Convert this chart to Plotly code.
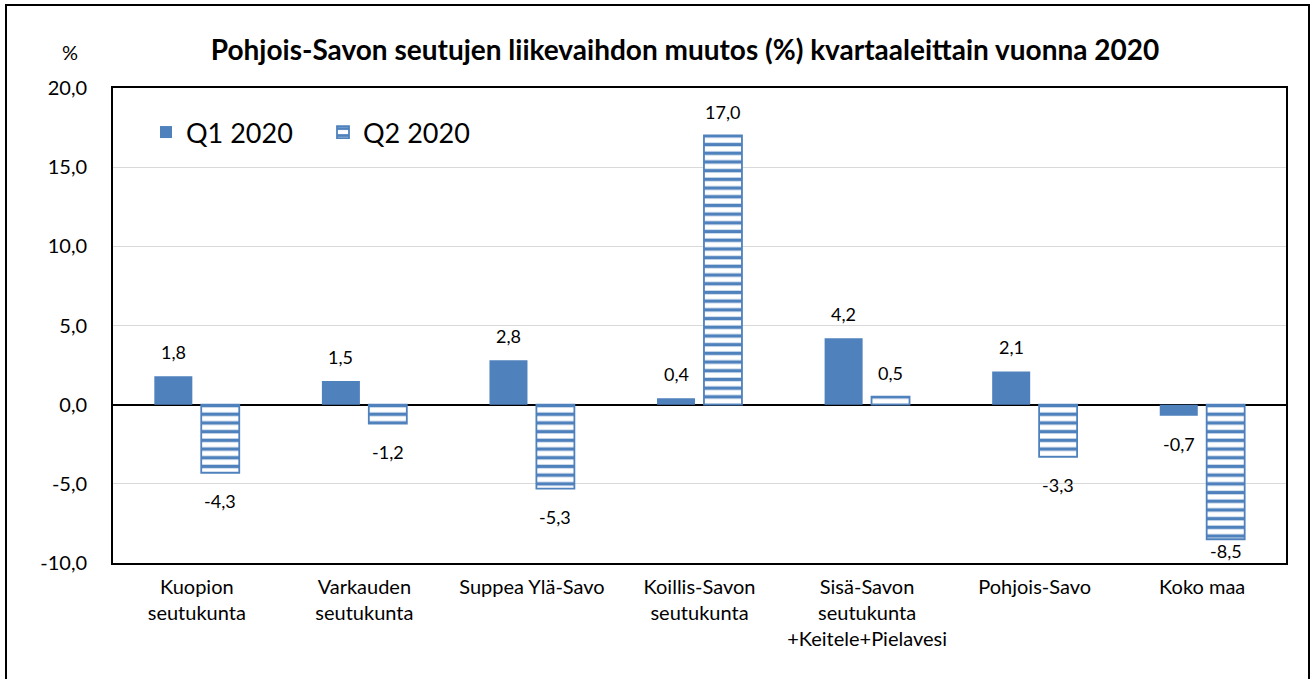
import plotly.graph_objects as go

categories = ["Kuopion<br>seutukunta", "Varkauden<br>seutukunta", "Suppea Ylä-Savo",
              "Koillis-Savon<br>seutukunta", "Sisä-Savon<br>seutukunta<br>+Keitele+Pielavesi",
              "Pohjois-Savo", "Koko maa"]
q1_2020 = [1.8, 1.5, 2.8, 0.4, 4.2, 2.1, -0.7]
q2_2020 = [-4.3, -1.2, -5.3, 17.0, 0.5, -3.3, -8.5]
series_names = ["Q1 2020", "Q2 2020"]
y_ticks = [-10, -5, 0, 5, 10, 15, 20]
y_tick_labels = ["-10,0", "-5,0", "0,0", "5,0", "10,0", "15,0", "20,0"]

BLUE = "#4F81BD"
FONT = "Lato"
W, H = 1311, 679
L, R, T, B = 113, 25, 88, 116
YMIN, YMAX = -10, 20
plot_w = W - L - R
plot_h = H - T - B
px_per_unit = plot_h / (YMAX - YMIN)


def px_x(p):
    return (p - L) / plot_w


def px_y(p):
    return (H - B - p) / plot_h


fig = go.Figure()
fig.add_trace(go.Bar(
    x=categories, y=q1_2020, name=series_names[0],
    marker=dict(color=BLUE, line=dict(color=BLUE, width=0)),
))
fig.add_trace(go.Bar(
    x=categories, y=q2_2020, name=series_names[1],
    marker=dict(color="white", line=dict(color=BLUE, width=1.8),
                pattern=dict(shape="-", fgcolor=BLUE, bgcolor="white", size=8.7,
                             solidity=0.4, fillmode="replace")),
))

# data labels
annotations = []
slot_px = plot_w / len(categories) * (1 - 0.44) / 2
for vals, xs in ((q1_2020, -slot_px / 2), (q2_2020, slot_px / 2)):
    for c, v in zip(categories, vals):
        if v >= 0:
            y, ys = v, 24
        else:
            y, ys = v, -28
            lowest = YMIN + 12.5 / px_per_unit
            if v - 28 / px_per_unit < lowest:
                y, ys = lowest, 0
        annotations.append(dict(
            x=c, y=y, xref="x", yref="y", xshift=xs, yshift=ys,
            text=f"{v:.1f}".replace(".", ","), showarrow=False,
            font=dict(family=FONT, size=18, color="#000000"),
            xanchor="center", yanchor="middle"))

annotations.append(dict(
    x=px_x(70), y=px_y(52), xref="paper", yref="paper", text="%", showarrow=False,
    xanchor="center", yanchor="middle",
    font=dict(family=FONT, size=20, color="#000000")))

fig.update_layout(
    width=W, height=H,
    margin=dict(l=L, r=R, t=T, b=B, pad=0),
    paper_bgcolor="white", plot_bgcolor="white",
    separators=", ",
    barmode="group", bargap=0.44, bargroupgap=0.19,
    font=dict(family=FONT, color="#000000"),
    title=dict(text="<b>Pohjois-Savon seutujen liikevaihdon muutos (%) kvartaaleittain vuonna 2020</b>",
               x=px_x(685), xref="paper", xanchor="center",
               y=1 - 50 / H, yref="container", yanchor="middle",
               font=dict(family=FONT, size=28, color="#000000")),
    legend=dict(orientation="h", x=px_x(146), y=px_y(108),
                xanchor="left", yanchor="top", bgcolor="rgba(0,0,0,0)",
                font=dict(family=FONT, size=27, color="#000000"),
                entrywidth=132, traceorder="normal"),
    showlegend=True,
    annotations=annotations,
    shapes=[dict(type="rect", xref="paper", yref="paper",
                 x0=px_x(6), x1=px_x(1309),
                 y0=px_y(690), y1=px_y(5),
                 line=dict(color="#000000", width=2), fillcolor="rgba(0,0,0,0)", layer="below")],
)
fig.update_yaxes(range=[YMIN, YMAX], tickvals=y_ticks, ticktext=y_tick_labels,
                 showgrid=True, gridcolor="#D9D9D9", gridwidth=1.3,
                 zeroline=True, zerolinecolor="#000000", zerolinewidth=1.8,
                 showline=True, linecolor="#000000", linewidth=1.8, mirror=True,
                 ticks="", ticklabelstandoff=20,
                 tickfont=dict(family=FONT, size=20, color="#000000"))
fig.update_xaxes(showline=True, linecolor="#000000", linewidth=1.8, mirror=True,
                 ticks="", ticklabelstandoff=5, tickangle=0,
                 tickfont=dict(family=FONT, size=20, color="#000000"))

fig.write_html("out.html", config={"displayModeBar": False},
               post_script="document.body.style.margin='0';document.body.style.overflow='hidden';")
